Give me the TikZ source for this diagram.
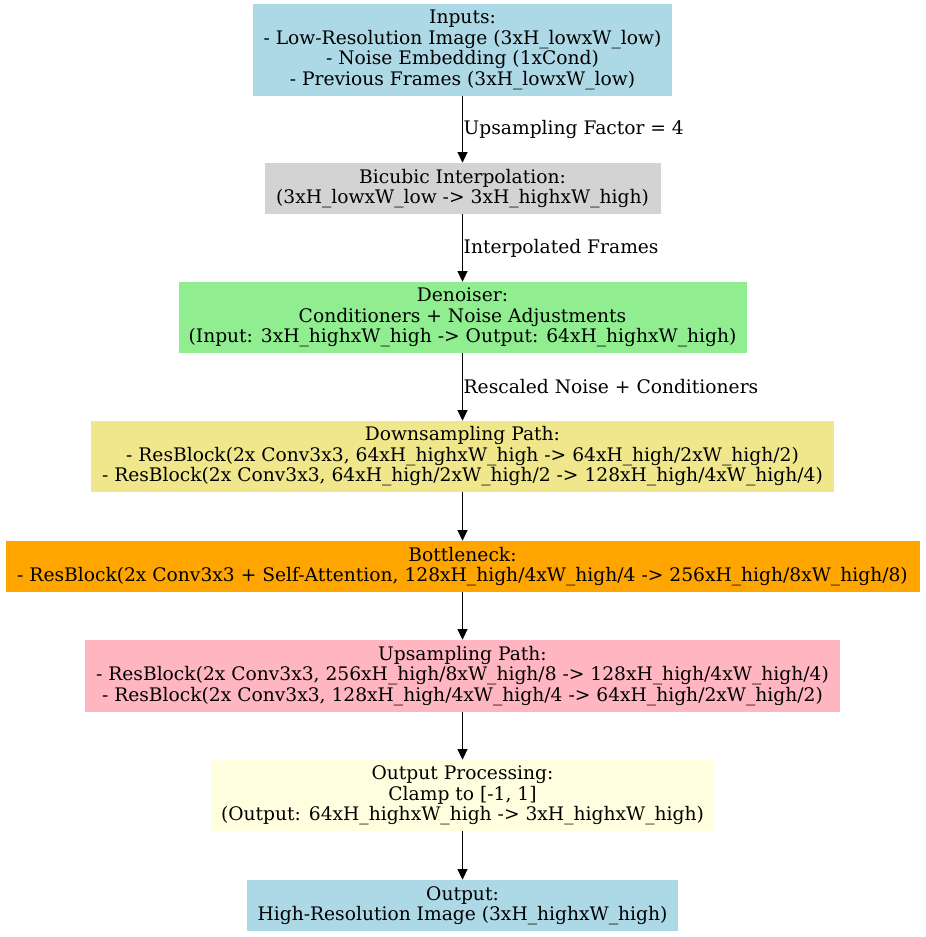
\documentclass[tikz,border=0pt]{standalone}
\usepackage{fontspec}
\setmainfont{DejaVu Serif}
\usetikzlibrary{arrows.meta}
\definecolor{cLightBlue}{HTML}{ADD8E6}
\definecolor{cLightGray}{HTML}{D3D3D3}
\definecolor{cLightGreen}{HTML}{90EE90}
\definecolor{cKhaki}{HTML}{F0E68C}
\definecolor{cOrange}{HTML}{FFA500}
\definecolor{cLightPink}{HTML}{FFB6C1}
\definecolor{cLightYellow}{HTML}{FFFFE0}
\begin{document}
\begin{tikzpicture}[x=0.75pt,y=-0.75pt,
  gbox/.style 2 args={rectangle, inner sep=0pt, align=center,
    minimum width={#1*0.75pt}, minimum height={#2*0.75pt},
    font=\fontsize{14}{15.3}\selectfont},
  arr/.style={-{Triangle[length=8pt,width=7.5pt]}, line width=0.75pt, black},
  elabel/.style={anchor=west, inner sep=0pt, xshift=0.5pt,
    font=\fontsize{14}{15.3}\selectfont}]
\useasboundingbox (0,0) rectangle (925,937);

% stages, top to bottom
\node[gbox={419}{92}, fill=cLightBlue] (inputs) at (462.5,50)
  {Inputs:\\- Low-Resolution Image (3xH\_lowxW\_low)\\- Noise Embedding (1xCond)\\- Previous Frames (3xH\_lowxW\_low)};
\node[gbox={396}{51}, fill=cLightGray] (bicubic) at (462.5,188.5)
  {Bicubic Interpolation:\\(3xH\_lowxW\_low -> 3xH\_highxW\_high)};
\node[gbox={568}{71}, fill=cLightGreen] (denoiser) at (462.5,317.5)
  {Denoiser:\\Conditioners + Noise Adjustments\\(Input: 3xH\_highxW\_high -> Output: 64xH\_highxW\_high)};
\node[gbox={743}{71}, fill=cKhaki] (down) at (462.5,456.5)
  {Downsampling Path:\\- ResBlock(2x Conv3x3, 64xH\_highxW\_high -> 64xH\_high/2xW\_high/2)\\- ResBlock(2x Conv3x3, 64xH\_high/2xW\_high/2 -> 128xH\_high/4xW\_high/4)};
\node[gbox={914}{51}, fill=cOrange] (bottleneck) at (462.5,566.5)
  {Bottleneck:\\- ResBlock(2x Conv3x3 + Self-Attention, 128xH\_high/4xW\_high/4 -> 256xH\_high/8xW\_high/8)};
\node[gbox={755}{72}, fill=cLightPink] (up) at (462.5,676)
  {Upsampling Path:\\- ResBlock(2x Conv3x3, 256xH\_high/8xW\_high/8 -> 128xH\_high/4xW\_high/4)\\- ResBlock(2x Conv3x3, 128xH\_high/4xW\_high/4 -> 64xH\_high/2xW\_high/2)};
\node[gbox={503}{71}, fill=cLightYellow] (outproc) at (462.5,795.5)
  {Output Processing:\\Clamp to [-1, 1]\\(Output: 64xH\_highxW\_high -> 3xH\_highxW\_high)};
\node[gbox={431}{51}, fill=cLightBlue] (output) at (462.5,905.5)
  {Output:\\High-Resolution Image (3xH\_highxW\_high)};

% data flow
\draw[arr] (inputs.south) -- node[elabel] {Upsampling Factor = 4} (bicubic.north);
\draw[arr] (bicubic.south) -- node[elabel] {Interpolated Frames} (denoiser.north);
\draw[arr] (denoiser.south) -- node[elabel] {Rescaled Noise + Conditioners} (down.north);
\draw[arr] (down.south) -- (bottleneck.north);
\draw[arr] (bottleneck.south) -- (up.north);
\draw[arr] (up.south) -- (outproc.north);
\draw[arr] (outproc.south) -- (output.north);
\end{tikzpicture}
\end{document}
